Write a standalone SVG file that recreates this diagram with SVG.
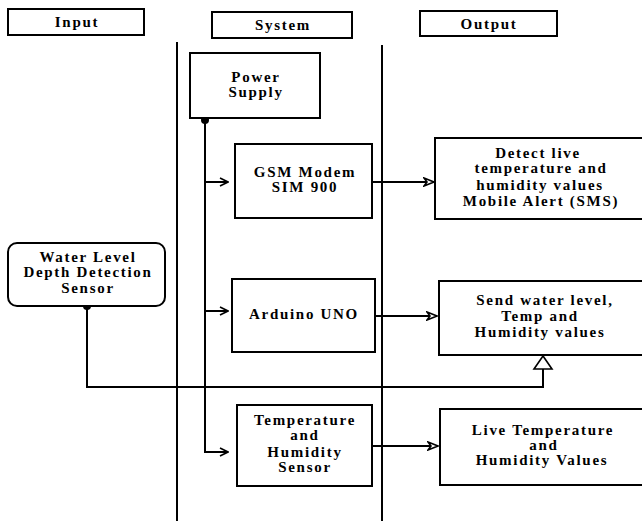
<svg xmlns="http://www.w3.org/2000/svg" width="642" height="521" viewBox="0 0 642 521">
<defs>
<style>
.box{fill:#fff;stroke:#000;stroke-width:2}
.ln{fill:none;stroke:#000;stroke-width:2}
.t{font-family:"Liberation Serif","Times New Roman",serif;font-weight:bold;font-size:15px;letter-spacing:1.7px;fill:#000;text-anchor:middle}
</style>
<marker id="openv" viewBox="0 0 10 10" refX="9" refY="5" markerWidth="10" markerHeight="10" markerUnits="userSpaceOnUse" orient="auto">
<path d="M1,1 L9,5 L1,9" fill="none" stroke="#000" stroke-width="1.6"/>
</marker>
<marker id="tri" viewBox="0 0 12 10" refX="11" refY="5" markerWidth="12" markerHeight="10" markerUnits="userSpaceOnUse" orient="auto">
<path d="M1,1 L11,5 L1,9 L4,5 Z" fill="#fff" stroke="#000" stroke-width="1.6"/>
</marker>
</defs>
<rect width="642" height="521" fill="#fff"/>
<g id="lanes">
<rect class="box" x="8" y="9" width="136" height="26"/>
<text class="t" x="77" y="27">Input</text>
<rect class="box" x="212" y="12" width="140" height="26"/>
<text class="t" x="283" y="30">System</text>
<rect class="box" x="420" y="11" width="137" height="25"/>
<text class="t" x="489" y="29">Output</text>
<line class="ln" x1="177" y1="42" x2="177" y2="521"/>
<line class="ln" x1="382" y1="45" x2="382" y2="521"/>
</g>
<g id="connectors">
<path class="ln" d="M205,120 V452 H228" marker-end="url(#openv)"/>
<path class="ln" d="M205,182 H228" marker-end="url(#openv)"/>
<path class="ln" d="M205,311 H228" marker-end="url(#openv)"/>
<path class="ln" d="M372,182 H434" marker-end="url(#tri)"/>
<path class="ln" d="M375,316 H437" marker-end="url(#tri)"/>
<path class="ln" d="M372,446 H438" marker-end="url(#tri)"/>
<path class="ln" d="M87,306 V387 H543 V369"/>
<path d="M543,356 L534,369 L552,369 Z" fill="#fff" stroke="#000" stroke-width="1.6"/>
<circle cx="205" cy="120" r="4" fill="#000"/>
<circle cx="87" cy="306" r="4" fill="#000"/>
</g>
<g id="power">
<rect class="box" x="190" y="53" width="130" height="65"/>
<text class="t" x="256" y="82">Power</text>
<text class="t" x="256" y="97">Supply</text>
</g>
<g id="gsm">
<rect class="box" x="235" y="144" width="137" height="74"/>
<text class="t" x="305" y="177">GSM Modem</text>
<text class="t" x="305" y="192">SIM 900</text>
</g>
<g id="arduino">
<rect class="box" x="232" y="279" width="143" height="73"/>
<text class="t" x="304" y="319">Arduino UNO</text>
</g>
<g id="temp">
<rect class="box" x="237" y="405" width="135" height="81"/>
<text class="t" x="305" y="425">Temperature</text>
<text class="t" x="305" y="440">and</text>
<text class="t" x="305" y="457">Humidity</text>
<text class="t" x="305" y="472">Sensor</text>
</g>
<g id="water">
<rect class="box" x="8" y="243" width="157" height="63" rx="9"/>
<text class="t" x="88" y="262">Water Level</text>
<text class="t" x="88" y="277">Depth Detection</text>
<text class="t" x="88" y="293">Sensor</text>
</g>
<g id="detect">
<rect class="box" x="435" y="138" width="212" height="81"/>
<text class="t" x="538" y="158">Detect live</text>
<text class="t" x="541" y="173">temperature and</text>
<text class="t" x="540" y="190">humidity values</text>
<text class="t" x="541" y="206">Mobile Alert (SMS)</text>
</g>
<g id="send">
<rect class="box" x="439" y="281" width="208" height="74"/>
<text class="t" x="545" y="305">Send water level,</text>
<text class="t" x="540" y="321">Temp and</text>
<text class="t" x="540" y="337">Humidity values</text>
</g>
<g id="live">
<rect class="box" x="440" y="409" width="207" height="76"/>
<text class="t" x="543" y="435">Live Temperature</text>
<text class="t" x="544" y="450">and</text>
<text class="t" x="542" y="465">Humidity Values</text>
</g>
</svg>
